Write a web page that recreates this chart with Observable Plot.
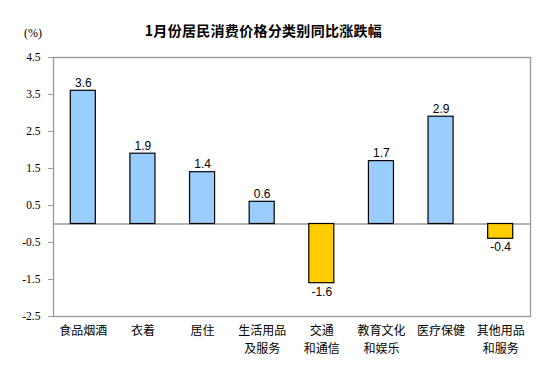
<!DOCTYPE html>
<html><head><meta charset="utf-8">
<script src="https://cdn.jsdelivr.net/npm/d3@7"></script>
<script src="https://cdn.jsdelivr.net/npm/@observablehq/plot@0.6"></script>
<style>
body{margin:0;background:#fff;}
#wrap{position:relative;width:553px;height:380px;}
#title{position:absolute;left:0;width:527px;top:20px;text-align:center;font:bold 14px "Noto Sans CJK SC",sans-serif;color:#000;letter-spacing:0.3px;}
#unit{position:absolute;left:24px;top:26px;font:12px "Liberation Serif",serif;color:#000;}
</style></head>
<body><div id="wrap"><div id="title">1月份居民消费价格分类别同比涨跌幅</div><div id="unit">(%)</div></div>
<script>
const categories = ["食品烟酒","衣着","居住","生活用品\n及服务","交通\n和通信","教育文化\n和娱乐","医疗保健","其他用品\n和服务"];
const values = [3.6,1.9,1.4,0.6,-1.6,1.7,2.9,-0.4];
const yTicks = [4.5,3.5,2.5,1.5,0.5,-0.5,-1.5,-2.5];
const data = categories.map((c,i)=>({c, v: values[i]}));
const gray = "#999";
const line = (c,i)=> (c.split("\n")[i] || "");
const chart = Plot.plot({
  width:553, height:380,
  marginLeft:53, marginRight:23, marginTop:57, marginBottom:64,
  style:{fontFamily:"'Noto Sans CJK SC',sans-serif", background:"transparent"},
  x:{domain:categories, paddingInner:0.58, paddingOuter:0.29, round:false, axis:null, label:null},
  y:{domain:[-2.5,4.5], axis:null, label:null},
  marks:[
    Plot.frame({stroke:gray, strokeWidth:1.3}),
    Plot.ruleY([0],{stroke:gray, strokeWidth:1.3}),
    Plot.axisY({ticks:yTicks, label:null, tickSize:5, tickPadding:8, stroke:gray, tickFormat:d=>d.toFixed(1), fontSize:11.5, fontFamily:"'Liberation Serif',serif", fill:"#000"}),
    Plot.barY(data,{x:"c", y:"v", fill:d=>d.v>=0?"#99CCFF":"#FFCC00", stroke:"#000", strokeWidth:1.2}),
    Plot.text(data,{x:"c", y:"v", text:d=>d.v.toFixed(1), lineAnchor:"bottom", fontSize:12, fontFamily:"'Liberation Sans',Arial,sans-serif", fill:"#000",
      filter:d=>d.v>=0, dy:-4}),
    Plot.text(data,{x:"c", y:"v", text:d=>d.v.toFixed(1), lineAnchor:"top", fontSize:12, fontFamily:"'Liberation Sans',Arial,sans-serif", fill:"#000",
      filter:d=>d.v<0, dy:4}),
    Plot.axisX({domain:categories, label:null, tickSize:0, tickPadding:10, fontSize:12, tickFormat:c=>line(c,0), fill:"#000", stroke:null}),
    Plot.axisX({domain:categories.filter(c=>c.includes("\n")), label:null, tickSize:0, tickPadding:28, fontSize:12, tickFormat:c=>line(c,1), fill:"#000", stroke:null})
  ]
});
chart.style.position="absolute";chart.style.left="0";chart.style.top="0";
document.getElementById("wrap").prepend(chart);
</script></body></html>
